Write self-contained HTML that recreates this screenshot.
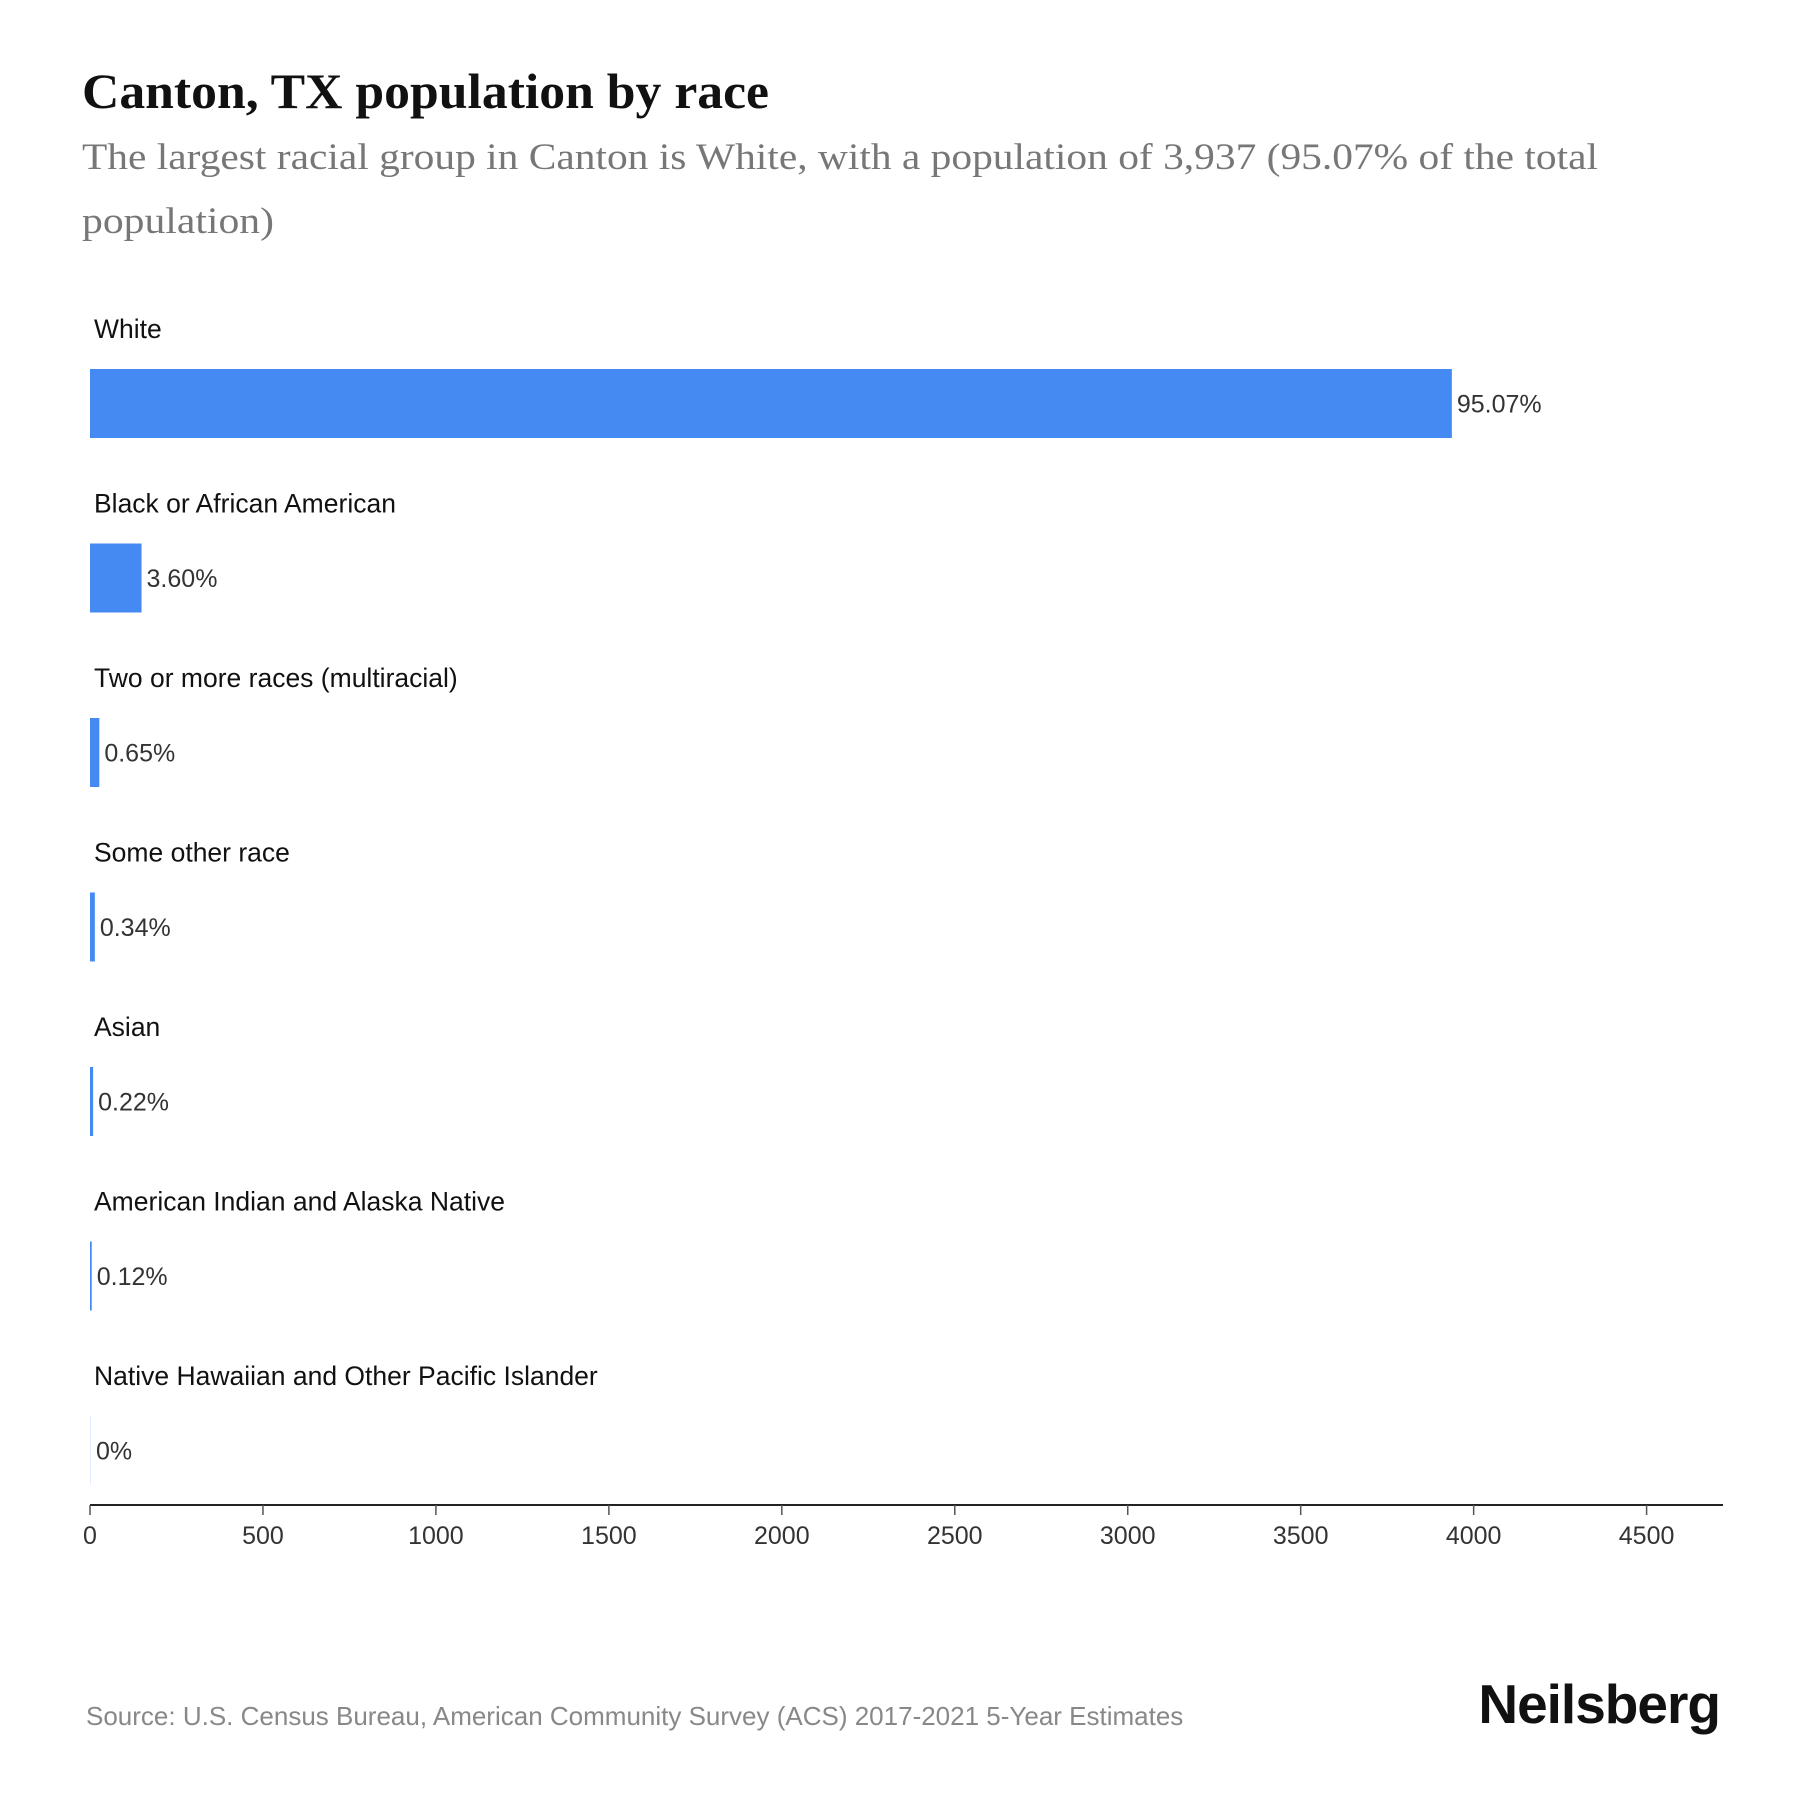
<!DOCTYPE html>
<html><head><meta charset="utf-8"><style>
body{margin:0;background:#fff;}
svg text{font-family:"Liberation Sans",sans-serif;}
</style></head><body>
<svg width="1800" height="1800" viewBox="0 0 1800 1800" xmlns="http://www.w3.org/2000/svg">
<rect width="1800" height="1800" fill="#fff"/>
<text x="82" y="108" style="font-family:'Liberation Serif',serif" font-size="50" font-weight="bold" fill="#111" textLength="687" lengthAdjust="spacingAndGlyphs">Canton, TX population by race</text>
<text x="82" y="169" style="font-family:'Liberation Serif',serif" font-size="37" fill="#777" textLength="1516" lengthAdjust="spacingAndGlyphs">The largest racial group in Canton is White, with a population of 3,937 (95.07% of the total</text>
<text x="82" y="233" style="font-family:'Liberation Serif',serif" font-size="37" fill="#777" textLength="192" lengthAdjust="spacingAndGlyphs">population)</text>
<g id="bars"></g>
<g id="axis"></g>
<text x="86" y="1725" font-size="26" fill="#888">Source: U.S. Census Bureau, American Community Survey (ACS) 2017-2021 5-Year Estimates</text>
<text x="1720" y="1723" text-anchor="end" font-size="55" font-weight="bold" fill="#111" letter-spacing="-1">Neilsberg</text>
</svg>
<script>
const categories=["White","Black or African American","Two or more races (multiracial)","Some other race","Asian","American Indian and Alaska Native","Native Hawaiian and Other Pacific Islander"];
const values=[3937,149,27,14,9,5,0];
const pctLabels=["95.07%","3.60%","0.65%","0.34%","0.22%","0.12%","0%"];
const ticks=[0,500,1000,1500,2000,2500,3000,3500,4000,4500];
const NS="http://www.w3.org/2000/svg";
const x0=90,pxPer=(1646.6-90)/4500;
const xs=v=>x0+v*pxPer;
const ys=i=>369+i*174.5;
const bh=69;
const bars=document.getElementById('bars');
function mk(t,a,p){const e=document.createElementNS(NS,t);for(const k in a)e.setAttribute(k,a[k]);p.appendChild(e);return e;}
categories.forEach((c,i)=>{
  const y=ys(i);
  const lab=mk('text',{x:94,y:y-31,'font-size':26.5,fill:'#111'},bars);
  lab.textContent=c;
  
  
  const w=Math.max(xs(values[i])-x0,1);
  const r=mk('rect',{x:x0,y:y,width:w,height:bh,fill:'#4589f2','fill-opacity':values[i]>0?1:0.15},bars);
  
  
  const v=mk('text',{x:x0+w+5,y:y+bh/2+9,'font-size':25,fill:'#333'},bars);
  v.textContent=pctLabels[i];
  
  
});
const ax=document.getElementById('axis');
const ay=1505;
const l=mk('line',{x1:x0,x2:1723,y1:ay,y2:ay,stroke:'#222','stroke-width':2},ax);


ticks.forEach(t=>{
  const tk=mk('line',{x1:xs(t),x2:xs(t),y1:ay,y2:ay+10,stroke:'#555','stroke-width':1.5},ax);
  
  
  const tl=mk('text',{x:xs(t),y:ay+39,'font-size':25,fill:'#333','text-anchor':'middle'},ax);
  tl.textContent=t;
  
  
});
</script>
</body></html>
